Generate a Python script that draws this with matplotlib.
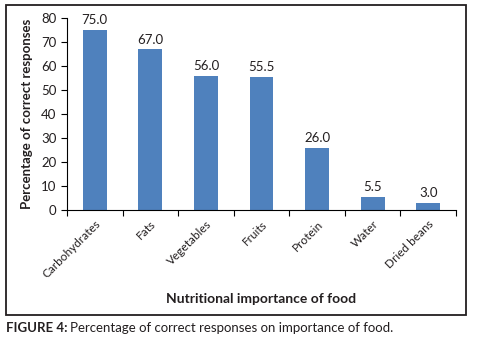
import matplotlib
matplotlib.use("Agg")
import matplotlib.pyplot as plt
from matplotlib.patches import Rectangle

categories = ["Carbohydrates", "Fats", "Vegetables", "Fruits", "Protein", "Water", "Dried beans"]
values = [75.0, 67.0, 56.0, 55.5, 26.0, 5.5, 3.0]
yticks = [0, 10, 20, 30, 40, 50, 60, 70, 80]

plt.rcParams['font.family'] = ['Lato', 'DejaVu Sans']
txt = '#231f20'

fig = plt.figure(figsize=(4.83, 3.45), dpi=100)
fig.patches.append(Rectangle((6/483, 1 - 315/345), 460/483, 310/345, transform=fig.transFigure,
                             fill=False, edgecolor='#231f20', linewidth=1.3))
ax = fig.add_axes([67/483, 1 - 210/345, (456-67)/483, (210-18)/345])
x = list(range(len(categories)))
bars = ax.bar(x, values, width=0.43, color='#4f81bd')
for xi, v in zip(x, values):
    ax.text(xi, v + 1.5, f"{v:.1f}", ha='center', va='bottom', fontsize=9.5, color=txt)

ax.set_xlim(-0.5, len(categories) - 0.5)
ax.set_ylim(0, 80)
ax.set_yticks(yticks)
ax.set_yticklabels([str(t) for t in yticks], fontsize=9.5, color=txt)
ax.set_xticks([i - 0.5 for i in range(len(categories) + 1)])
ax.set_xticklabels([])
ax.set_xticks(x, minor=True)
ax.set_xticklabels(categories, minor=True, rotation=45, ha='right', rotation_mode='anchor',
                   fontsize=8.5, color=txt)
ax.tick_params(axis='x', which='minor', length=0, pad=6)
ax.tick_params(axis='x', which='major', length=4, direction='out')
ax.tick_params(axis='y', length=4, direction='out')
for s in ['top', 'right']:
    ax.spines[s].set_visible(False)
ax.spines['left'].set_color('black')
ax.spines['bottom'].set_color('black')

ax.set_ylabel("Percentage of correct responses", fontsize=9.5, fontweight='bold', color=txt, labelpad=6)
fig.text(261/483, 1 - 299/345, "Nutritional importance of food", ha='center', va='center',
         fontsize=10, fontweight='bold', color=txt)

t1 = fig.text(6/483, 1 - 328/345, "FIGURE 4:", ha='left', va='center', fontsize=9.5, fontweight='bold', color=txt)
fig.canvas.draw()
bb = t1.get_window_extent(renderer=fig.canvas.get_renderer())
fig.text((bb.x1 + 3) / fig.bbox.width, 1 - 328/345, "Percentage of correct responses on importance of food.",
         ha='left', va='center', fontsize=9.5, color=txt)

fig.savefig("out.png", dpi=100)
